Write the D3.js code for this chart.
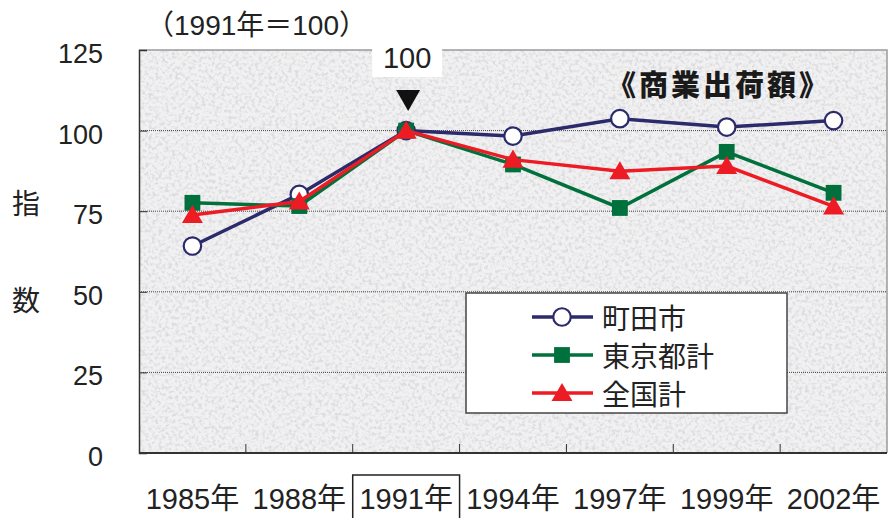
<!DOCTYPE html>
<html>
<head>
<meta charset="utf-8">
<script src="https://cdn.jsdelivr.net/npm/d3@7"></script>
<style>
  body { margin: 0; background: #fff; }
  text { font-family: "Liberation Sans", "Noto Sans CJK JP", sans-serif; fill: #222; }
</style>
</head>
<body>
<script>
const years = ['1985年', '1988年', '1991年', '1994年', '1997年', '1999年', '2002年'];
const machida = [64.2, 80.2, 100, 98.3, 103.7, 101.1, 103.1];
const tokyo = [77.6, 76.6, 100, 89.5, 76.0, 93.4, 80.7];
const national = [73.8, 78.0, 100, 91.0, 87.4, 89.0, 76.5];
const seriesNames = ['町田市', '東京都計', '全国計'];
const yTicks = [0, 25, 50, 75, 100, 125];

const series = [
    { name: seriesNames[0], values: machida, color: '#2b2a6b', shape: 'circle' },
    { name: seriesNames[1], values: tokyo, color: '#00703c', shape: 'square' },
    { name: seriesNames[2], values: national, color: '#ed1c24', shape: 'triangle' }
];

const width = 888, height = 518;
const margin = { top: 50, right: 1, bottom: 65, left: 139 };
const plotW = width - margin.left - margin.right;
const plotH = height - margin.top - margin.bottom;

const svg = d3.select("body").append("svg")
    .attr("width", width)
    .attr("height", height);

const defs = svg.append("defs");
const grain = defs.append("filter")
    .attr("id", "grain")
    .attr("x", 0).attr("y", 0).attr("width", 1).attr("height", 1);
grain.append("feTurbulence")
    .attr("type", "fractalNoise")
    .attr("baseFrequency", "0.3")
    .attr("numOctaves", 3)
    .attr("seed", 7);
grain.append("feColorMatrix")
    .attr("type", "matrix")
    .attr("values", "0 0 0 0 0.72  0 0 0 0 0.71  0 0 0 0 0.75  3.6 0 0 0 -1.62");

const x = d3.scaleBand()
    .domain(years)
    .range([0, plotW]);
const y = d3.scaleLinear()
    .domain([0, 125])
    .range([plotH, 0]);

const g = svg.append("g")
    .attr("transform", "translate(" + margin.left + "," + margin.top + ")");

// textured background
g.append("rect")
    .attr("width", plotW).attr("height", plotH)
    .attr("fill", "#f1f1f1");
g.append("rect")
    .attr("width", plotW).attr("height", plotH)
    .attr("fill", "#fff")
    .attr("filter", "url(#grain)");

// top & right frame
g.append("path")
    .attr("d", "M0,0H" + plotW + "V" + plotH)
    .attr("fill", "none")
    .attr("stroke", "#9a9a9a")
    .attr("stroke-width", 1.5);

// gridlines
g.selectAll(".grid")
    .data(yTicks.filter(d => d > 0 && d < 125))
    .enter().append("line")
    .attr("x1", 0).attr("x2", plotW)
    .attr("y1", d => y(d)).attr("y2", d => y(d))
    .attr("stroke", "#444")
    .attr("stroke-width", 1)
    .attr("stroke-dasharray", "1,1");

// left axis
const yAxis = d3.axisRight(y)
    .tickValues(yTicks)
    .tickSize(8)
    .tickFormat("");
g.append("g").call(yAxis)
    .call(a => a.select(".domain").attr("stroke", "#333").attr("stroke-width", 1.5))
    .call(a => a.selectAll(".tick line").attr("stroke", "#333"));

g.selectAll(".ylab")
    .data(yTicks)
    .enter().append("text")
    .attr("x", -36)
    .attr("y", d => y(d) + 4)
    .attr("text-anchor", "end")
    .attr("dominant-baseline", "central")
    .style("font-size", "27px")
    .text(d => d);

// bottom axis with category boundary ticks
g.append("line")
    .attr("x1", 0).attr("x2", plotW)
    .attr("y1", plotH).attr("y2", plotH)
    .attr("stroke", "#333").attr("stroke-width", 2);
g.selectAll(".xtick")
    .data(years.slice(1))
    .enter().append("line")
    .attr("x1", d => x(d)).attr("x2", d => x(d))
    .attr("y1", plotH).attr("y2", plotH - 9)
    .attr("stroke", "#333");

g.selectAll(".xlab")
    .data(years)
    .enter().append("text")
    .attr("x", d => x(d) + x.bandwidth() / 2)
    .attr("y", plotH + 56)
    .attr("text-anchor", "middle")
    .style("font-size", "29px")
    .text(d => d);

// box around the base year
g.append("rect")
    .attr("x", x('1991年'))
    .attr("y", plotH + 22)
    .attr("width", x.bandwidth())
    .attr("height", 60)
    .attr("fill", "none")
    .attr("stroke", "#222")
    .attr("stroke-width", 1.5);

// lines
const line = d3.line()
    .x((d, i) => x(years[i]) + x.bandwidth() / 2)
    .y(d => y(d));

const symbolFor = {
    circle: d3.symbol().type(d3.symbolCircle).size(240),
    square: d3.symbol().type(d3.symbolSquare).size(250),
    triangle: d3.symbol().type(d3.symbolTriangle).size(190)
};

function drawMarker(sel, s) {
    sel.attr("d", symbolFor[s.shape]())
        .attr("fill", s.shape === 'circle' ? '#fff' : s.color)
        .attr("stroke", s.shape === 'circle' ? s.color : 'none')
        .attr("stroke-width", 2.2);
}

series.forEach(s => {
    g.append("path")
        .datum(s.values)
        .attr("d", line)
        .attr("fill", "none")
        .attr("stroke", s.color)
        .attr("stroke-width", 3.5);
    g.selectAll(".m-" + s.shape)
        .data(s.values)
        .enter().append("path")
        .attr("class", "m-" + s.shape)
        .attr("transform", (d, i) => "translate(" + (x(years[i]) + x.bandwidth() / 2) + "," + (y(d) + (s.shape === 'triangle' ? 2 : 0)) + ")")
        .call(sel => drawMarker(sel, s));
});

// annotation for 100
const cx91 = x('1991年') + x.bandwidth() / 2;
svg.append("rect")
    .attr("x", margin.left + cx91 - 34)
    .attr("y", 38)
    .attr("width", 70)
    .attr("height", 39)
    .attr("fill", "#fff");
svg.append("text")
    .attr("x", margin.left + cx91 + 1)
    .attr("y", 68)
    .attr("text-anchor", "middle")
    .style("font-size", "29px")
    .text("100");
svg.append("path")
    .attr("d", "M" + (margin.left + cx91 - 10) + ",90h24l-12,21z")
    .attr("fill", "#111");

// title inside plot
svg.append("text")
    .attr("x", 719)
    .attr("y", 83)
    .attr("text-anchor", "middle")
    .attr("dominant-baseline", "central")
    .style("font-family", "'Noto Sans CJK JP'")
    .style("font-weight", "900")
    .style("font-size", "29px")
    .style("letter-spacing", "3px")
    .style("fill", "#1a1a1a")
    .text("《商業出荷額》");

// base note
svg.append("text")
    .attr("x", 146)
    .attr("y", 35)
    .style("font-size", "28px")
    .text("（1991年＝100）");

// y title
svg.selectAll(".ytitle")
    .data(['指', '数'])
    .enter().append("text")
    .attr("x", 26)
    .attr("y", (d, i) => 202 + i * 97)
    .attr("text-anchor", "middle")
    .attr("dominant-baseline", "central")
    .style("font-family", "'Noto Sans CJK JP'")
    .style("font-size", "28px")
    .text(d => d);

// legend
const legend = svg.append("g")
    .attr("transform", "translate(466,293)");
legend.append("rect")
    .attr("width", 321).attr("height", 120)
    .attr("fill", "#fff")
    .attr("stroke", "#444")
    .attr("stroke-width", 1.5);
series.forEach((s, i) => {
    const row = legend.append("g")
        .attr("transform", "translate(0," + (24 + i * 38) + ")");
    row.append("line")
        .attr("x1", 66).attr("x2", 127)
        .attr("stroke", s.color)
        .attr("stroke-width", 3.5);
    row.append("path")
        .attr("transform", "translate(96," + (s.shape === 'triangle' ? 2 : 0) + ")")
        .call(sel => drawMarker(sel, s));
    row.append("text")
        .attr("x", 136)
        .attr("dominant-baseline", "central")
        .style("font-family", "'Noto Sans CJK JP'")
        .style("font-size", "28px")
        .text(s.name);
});
</script>
</body>
</html>
